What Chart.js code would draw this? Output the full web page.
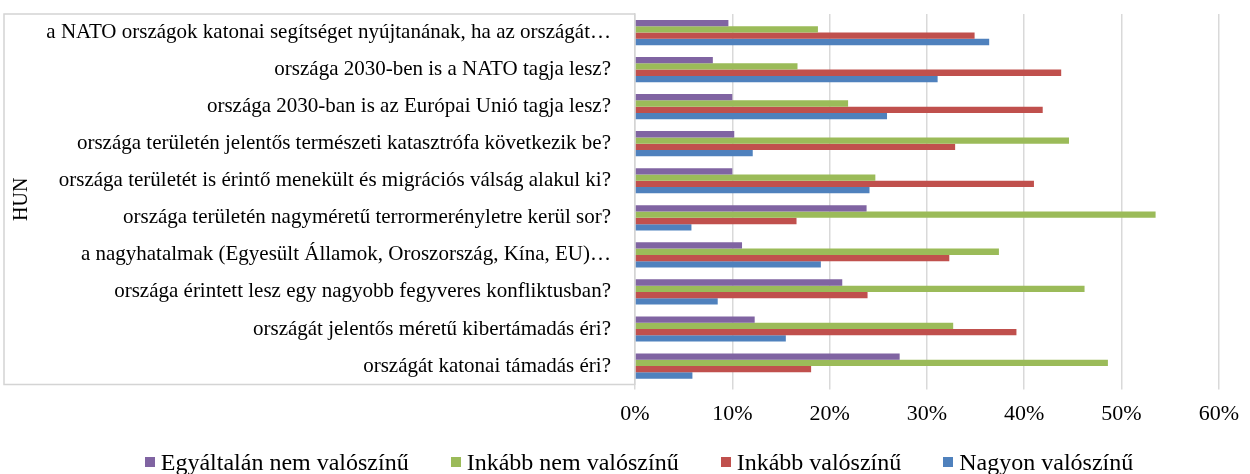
<!DOCTYPE html>
<html>
<head>
<meta charset="utf-8">
<script src="https://cdn.jsdelivr.net/npm/chart.js@4.4.1/dist/chart.umd.min.js"></script>
<style>
  body { margin: 0; background: #fff; }
  #wrap { position: relative; width: 1250px; height: 474px; }
  #legend {
    position: absolute; left: 0; top: 450px; width: 1250px;
    box-sizing: border-box; padding-left: 28px;
    display: flex; justify-content: center;
    font-family: 'Liberation Serif', 'Times New Roman', serif;
    font-size: 24px; line-height: 24px; color: #000;
  }
  #legend .item { display: flex; align-items: center; margin-right: 42px; white-space: nowrap; }
  #legend .item:last-child { margin-right: 0; }
  #legend .box { width: 10px; height: 10px; margin-right: 6px; }
</style>
</head>
<body>
<div id="wrap">
  <canvas id="barChart"></canvas>
  <div id="legend"></div>
</div>
<script>
const categories = [
  "a NATO országok katonai segítséget nyújtanának, ha az országát…",
  "országa 2030-ben is a NATO tagja lesz?",
  "országa 2030-ban is az Európai Unió tagja lesz?",
  "országa területén jelentős természeti katasztrófa következik be?",
  "országa területét is érintő menekült és migrációs válság alakul ki?",
  "országa területén nagyméretű terrormerényletre kerül sor?",
  "a nagyhatalmak (Egyesült Államok, Oroszország, Kína, EU)…",
  "országa érintett lesz egy nagyobb fegyveres konfliktusban?",
  "országát jelentős méretű kibertámadás éri?",
  "országát katonai támadás éri?",
];

const egyaltalanNem = [9.6, 8.0, 10.0, 10.2, 10.0, 23.8, 11.0, 21.3, 12.3, 27.2];
const inkabbNem = [18.8, 16.7, 21.9, 44.6, 24.7, 53.5, 37.4, 46.2, 32.7, 48.6];
const inkabb = [34.9, 43.8, 41.9, 32.9, 41.0, 16.6, 32.3, 23.9, 39.2, 18.1];
const nagyon = [36.4, 31.1, 25.9, 12.1, 24.1, 5.8, 19.1, 8.5, 15.5, 5.9];

const seriesNames = ["Egyáltalán nem valószínű", "Inkább nem valószínű", "Inkább valószínű", "Nagyon valószínű"];
const colors = ["#8064A2", "#9BBB59", "#C0504D", "#4F81BD"];
const xTicks = [0, 10, 20, 30, 40, 50, 60];

const FONT = "'Liberation Serif', 'Times New Roman', serif";

// light grey box around the category labels (excel multi-level axis look)
const labelBox = {
  id: "labelBox",
  beforeDatasetsDraw(chart) {
    const { ctx, chartArea } = chart;
    ctx.save();
    ctx.strokeStyle = "#d4d4d4";
    ctx.lineWidth = 1.5;
    ctx.beginPath();
    ctx.moveTo(chartArea.left, chartArea.top);
    ctx.lineTo(4, chartArea.top);
    ctx.lineTo(4, chartArea.bottom);
    ctx.lineTo(chartArea.left, chartArea.bottom);
    ctx.stroke();
    ctx.restore();
  },
};

document.addEventListener("DOMContentLoaded", () => {
  const chart = generaChartBar();
  buildLegend(chart);
});

function buildLegend(chart) {
  const legend = document.getElementById("legend");
  chart.data.datasets.forEach((ds) => {
    const item = document.createElement("span");
    item.className = "item";
    const box = document.createElement("span");
    box.className = "box";
    box.style.background = ds.backgroundColor;
    item.appendChild(box);
    item.appendChild(document.createTextNode(ds.label));
    legend.appendChild(item);
  });
}

function generaChartBar() {
  const ctx = document.getElementById("barChart").getContext("2d");
  const values = [egyaltalanNem, inkabbNem, inkabb, nagyon];

  return new Chart(ctx, {
    type: "bar",
    data: {
      labels: categories,
      datasets: seriesNames.map((name, i) => ({
        label: name,
        data: values[i],
        backgroundColor: colors[i],
        borderWidth: 0,
        categoryPercentage: 0.68,
        barPercentage: 1,
      })),
    },
    options: {
      indexAxis: "y",
      responsive: true,
      maintainAspectRatio: false,
      animation: false,
      layout: { padding: { top: 14, right: 24, bottom: 36, left: 0 } },
      plugins: {
        tooltip: { enabled: false },
        legend: { display: false },
      },
      scales: {
        x: {
          min: xTicks[0],
          max: xTicks[xTicks.length - 1],
          afterBuildTicks: (scale) => {
            scale.ticks = xTicks.map((v) => ({ value: v }));
          },
          grid: { color: "#d9d9d9", lineWidth: 1.5, tickLength: 5 },
          border: { display: false },
          ticks: {
            color: "#000",
            font: { family: FONT, size: 22 },
            padding: 11,
            maxRotation: 0,
            callback: (v) => v + "%",
          },
        },
        y: {
          afterFit: (scale) => {
            scale.width = 635;
            scale.paddingTop = 0;
            scale.paddingBottom = 0;
          },
          grid: { display: false, drawTicks: false },
          border: { display: true, color: "#d4d4d4", width: 1.5 },
          ticks: {
            color: "#000",
            font: { family: FONT, size: 21 },
            padding: 24,
            autoSkip: false,
          },
          title: {
            display: true,
            text: "HUN",
            color: "#000",
            font: { family: FONT, size: 20 },
            padding: { top: 10, bottom: 0 },
          },
        },
      },
    },
    plugins: [labelBox],
  });
}
</script>
</body>
</html>
